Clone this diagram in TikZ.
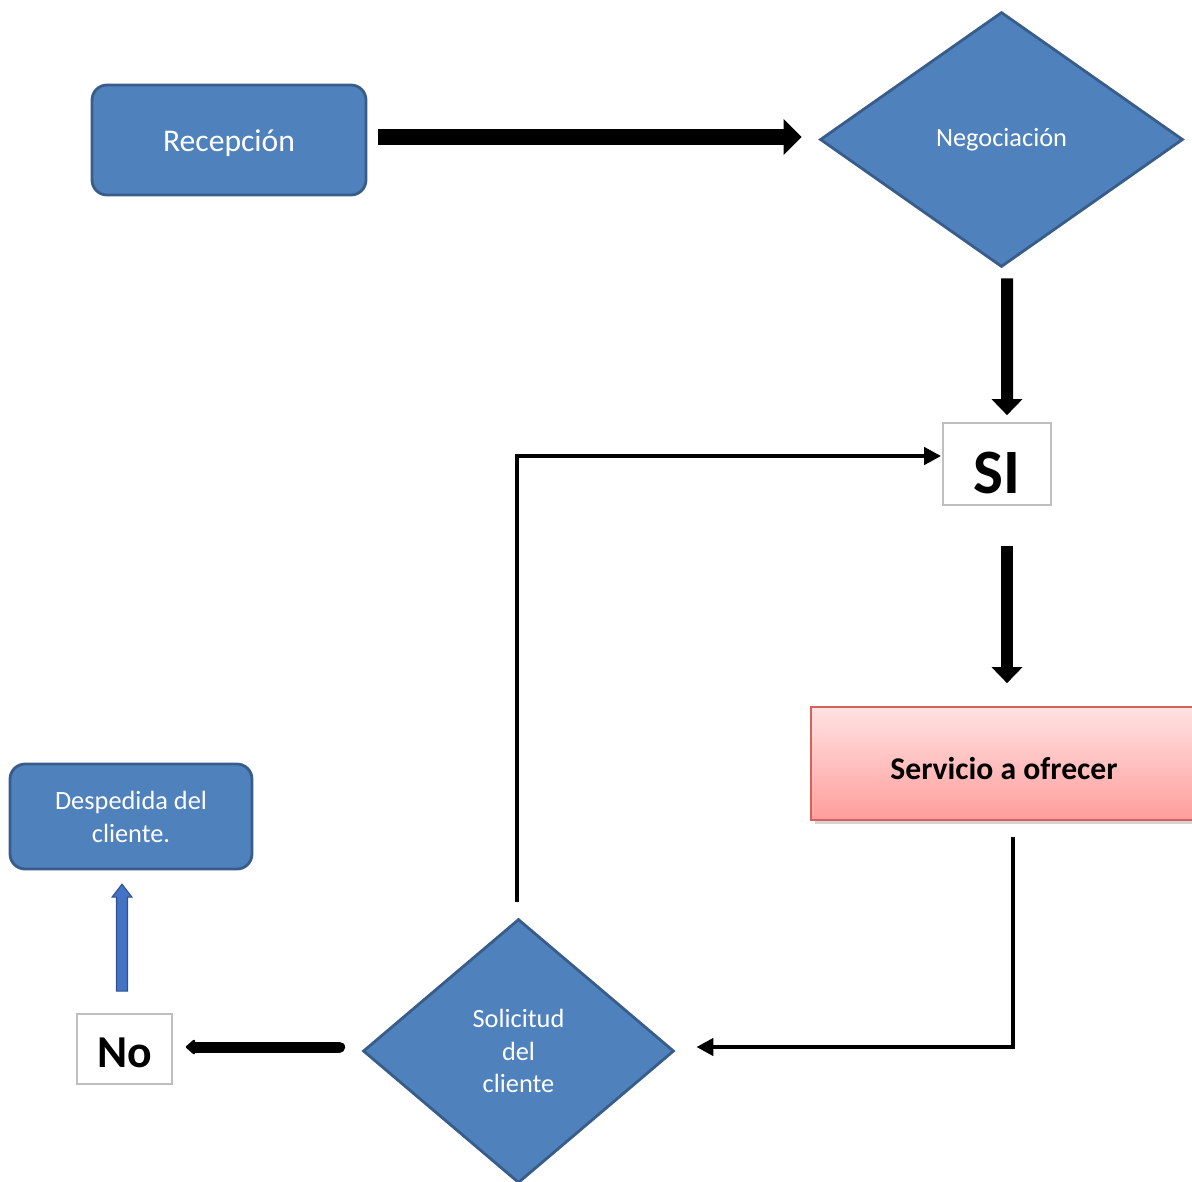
\documentclass[tikz,border=0pt]{standalone}
\usepackage{fontspec}
\setmainfont{Carlito}
\usetikzlibrary{positioning}
\usetikzlibrary{shapes.geometric}
\usetikzlibrary{arrows.meta}
\usetikzlibrary{calc}
\usetikzlibrary{shadows}

\definecolor{boxblue}{HTML}{4F81BD}
\definecolor{boxedge}{HTML}{385D8A}
\definecolor{edgegray}{HTML}{BFBFBF}
\definecolor{servtop}{HTML}{FFE2E2}
\definecolor{servbot}{HTML}{FF9E9C}
\definecolor{servedge}{HTML}{D3625F}
\definecolor{upblue}{HTML}{4472C4}
\definecolor{upedge}{HTML}{2F528F}

\begin{document}
\begin{tikzpicture}[x=0.02cm,y=-0.02cm,
                bluebox/.style={rectangle, rounded corners=0.3cm, draw=boxedge, line width=1.6pt, fill=boxblue, text=white, inner sep=0pt, align=center},
                bluediam/.style={diamond, draw=boxedge, line width=1.6pt, fill=boxblue, text=white, inner sep=0pt, align=center},
                answer/.style={rectangle, draw=edgegray, line width=1pt, fill=white, inner sep=0pt},
                bigarr/.style={line width=0.32cm, -{Triangle[length=0.36cm, width=0.7cm]}},
                downarr/.style={line width=0.24cm, -{Triangle[length=0.32cm, width=0.6cm]}},
                thinarr/.style={line width=0.09cm, -{Triangle[length=0.34cm, width=0.34cm]}},
                noarr/.style={line width=0.22cm, line cap=round, -{Triangle[round, length=0.2cm, width=0.34cm]}},
                blockarr/.style={draw=upedge, fill=upblue, line width=0.6pt, line join=miter},]
    \useasboundingbox (0,0) rectangle (1192,1181);

    \node[bluebox, minimum width=5.48cm, minimum height=2.2cm, text height=15.6pt, text depth=3pt, font=\fontsize{18}{22}\selectfont] (rec) at (229,140) {Recepción};
    \node[bluediam, minimum width=7.26cm, minimum height=5.1cm, font=\fontsize{15}{18}\selectfont] (neg) at (1001.5,139.5) {Negociación};
    \node[answer, minimum width=2.16cm, minimum height=1.64cm, text height=33pt, text depth=0pt, font=\fontsize{36}{40}\selectfont\bfseries] (si) at (997,464) {SI};
    \node[rectangle, draw=servedge, line width=1pt, top color=servtop, bottom color=servbot,
          drop shadow={shadow xshift=2pt, shadow yshift=-2.5pt, opacity=0.35},
          minimum width=7.72cm, minimum height=2.26cm, text height=18.4pt, text depth=0pt,
          font=\fontsize{18}{22}\selectfont\bfseries] (serv) at (1004,763.5) {Servicio a ofrecer};
    \node[bluebox, minimum width=4.84cm, minimum height=2.1cm, font=\fontsize{15}{18.8}\selectfont] (desp) at (131,816.5) {Despedida del\\cliente.};
    \node[bluediam, minimum width=6.22cm, minimum height=5.28cm, font=\fontsize{15}{18.6}\selectfont] (sol) at (518.5,1051) {Solicitud\\del\\cliente};
    \node[answer, minimum width=1.9cm, minimum height=1.4cm, text height=21.4pt, text depth=0pt, font=\fontsize{26}{30}\selectfont\bfseries] (no) at (124.5,1049) {No};

    % flujo principal
    \draw[bigarr] ($(rec.east)+(11,-3)$) -- ($(neg.west)+(-17,-2.5)$);
    \draw[downarr] ($(neg.south)+(5.5,10)$) -- ($(si.north)+(10,-7)$);
    \draw[downarr] ($(si.south)+(10,40)$) -- ($(serv.north)+(3,-23)$);
    \draw[thinarr] ($(serv.south)+(9,16)$) |- ($(sol.east)+(21,-4)$);
    \draw[thinarr] ($(sol.north)+(-1.5,-16)$) |- ($(si.west)+(-1,-8)$);
    \draw[noarr] ($(sol.west)+(-22,-4)$) -- ($(no.east)+(13,-2)$);

    % flecha azul hacia la despedida
    \draw[blockarr] ($(no.north)+(-8,-22)$) -- ++(0,-94) -- ++(-4.5,0) -- ++(10,-13)
        -- ++(10,13) -- ++(-4.5,0) -- ++(0,94) -- cycle;
\end{tikzpicture}
\end{document}
